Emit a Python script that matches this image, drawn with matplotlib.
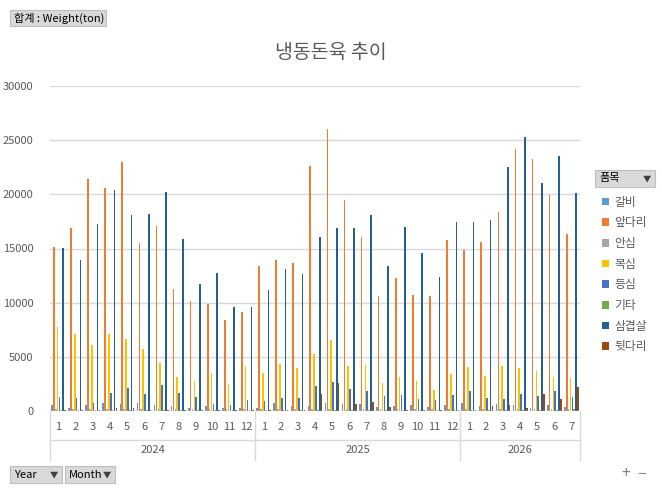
import matplotlib
matplotlib.use("Agg")
import matplotlib.pyplot as plt
from matplotlib.patches import FancyBboxPatch, Rectangle
import numpy as np

plt.rcParams['font.family'] = ['Noto Sans CJK KR', 'DejaVu Sans']

years = ['2024', '2025', '2026']
months_per_year = [12, 12, 7]
series = ['갈비', '앞다리', '안심', '목심', '등심', '기타', '삼겹살', '뒷다리']
colors = ['#5B9BD5', '#ED7D31', '#A5A5A5', '#FFC000', '#4472C4', '#70AD47', '#255E91', '#9E480E']

galbi = [550,300,550,740,650,740,550,460,280,460,280,280,
         280,740,460,460,740,650,650,370,460,550,370,550,
         740,460,650,550,280,550,370]
apdari = [15140,16900,21400,20600,23000,15500,17100,11260,10150,9900,8400,9140,
          13380,13940,13660,22600,26030,19480,16060,10600,12280,10700,10600,15780,
          14860,15600,18370,24190,23260,19940,16340]
ansim = [150]*31
moksim = [7750,7100,6100,7100,6650,5720,4430,3140,2770,3500,2500,4150,
          3500,4340,3970,5260,6550,4150,4250,2580,3140,2770,1940,3420,
          4060,3230,4150,3970,3690,3140,3050]
deungsim = [1290,1200,740,1660,2120,1570,2400,1660,1290,650,550,1000,
            920,1200,1200,2300,2680,2030,1850,1380,1480,1100,1000,1480,
            1850,1200,1100,1570,1380,1850,1290]
gita = [60]*30 + [150]
samgyeop = [15050,13940,17260,20400,18100,18200,20200,15900,11720,12740,9600,9600,
            11170,13100,12650,16060,16900,16900,18100,13380,16990,14590,12370,17450,
            17450,17630,22520,25290,21050,23540,20120]
dwitdari = [100,100,100,250,300,100,100,100,100,100,100,100,
            100,100,100,1570,2580,650,830,370,100,100,100,100,
            100,460,550,280,1570,1100,2220]
data = [galbi, apdari, ansim, moksim, deungsim, gita, samgyeop, dwitdari]

n = sum(months_per_year)
x = np.arange(n)
month_labels = [str(m) for k in months_per_year for m in range(1, k + 1)]

fig = plt.figure(figsize=(6.62, 4.92), dpi=100)
ax = fig.add_axes([50/662, 81/492, 530/662, 325/492])
w = 0.11
for i, (s, vals) in enumerate(zip(series, data)):
    ax.bar(x + (i - 3.5) * w, vals, width=w * 0.85, color=colors[i], label=s)

ax.set_xlim(-0.5, n - 0.5)
ax.set_ylim(0, 30000)
ax.set_yticks(range(0, 30001, 5000))
ax.tick_params(axis='y', length=0, labelsize=8, colors='#595959')
ax.yaxis.set_tick_params(pad=12)
ax.set_xticks([])
ax.grid(axis='y', color='#D9D9D9', lw=1)
ax.set_axisbelow(True)
for sp in ax.spines.values():
    sp.set_visible(False)
ax.axhline(0, color='#D9D9D9', lw=1)

trans = ax.get_xaxis_transform()
for xi, lab in zip(x, month_labels):
    ax.text(xi, -0.05, lab, transform=trans, ha='center', va='center', fontsize=8, color='#595959')
# separators
start = 0
bounds = [-0.5]
for k in months_per_year:
    start += k
    bounds.append(start - 0.5)
for b in bounds:
    ax.plot([b, b], [0, -0.15], transform=trans, color='#D9D9D9', lw=1, clip_on=False)
ax.plot([-0.5, n - 0.5], [-0.09, -0.09], transform=trans, color='#D9D9D9', lw=1, clip_on=False)
for yr, a, b in zip(years, bounds[:-1], bounds[1:]):
    ax.text((a + b) / 2, -0.12, yr, transform=trans, ha='center', va='center', fontsize=8, color='#595959')

fig.text(331/662, 1 - 52/492, '냉동돈육 추이', ha='center', va='center', fontsize=14, color='#595959')

# legend
leg = ax.legend(loc='upper left', bbox_to_anchor=(591/662, 1 - 185/492), bbox_transform=fig.transFigure,
                frameon=False, fontsize=8.5, handlelength=0.6, handleheight=0.6, labelspacing=0.65,
                handletextpad=0.5, labelcolor='#595959')
# buttons
def button(x0, y0, w0, h0, text, arrow=False):
    r = Rectangle((x0/662, 1 - (y0 + h0)/492), w0/662, h0/492, transform=fig.transFigure,
                  facecolor='#D9D9D9', edgecolor='#BFBFBF', lw=0.8)
    fig.add_artist(r)
    fig.text((x0 + 4)/662, 1 - (y0 + h0/2)/492, text, ha='left', va='center', fontsize=8, color='black')
    if arrow:
        fig.text((x0 + w0 - 8)/662, 1 - (y0 + h0/2)/492, '▼', ha='center', va='center', fontsize=6, color='#404040')

button(10, 10, 96, 16, '합계 : Weight(ton)')
button(595, 170, 60, 17, '품목', arrow=True)
button(10, 466, 52, 17, 'Year', arrow=True)
button(65, 466, 50, 17, 'Month', arrow=True)
fig.text(626/662, 1 - 474/492, '+', ha='center', va='center', fontsize=11, color='#808080')
fig.text(642/662, 1 - 474/492, '−', ha='center', va='center', fontsize=11, color='#808080')

fig.savefig('out.png', dpi=100)
